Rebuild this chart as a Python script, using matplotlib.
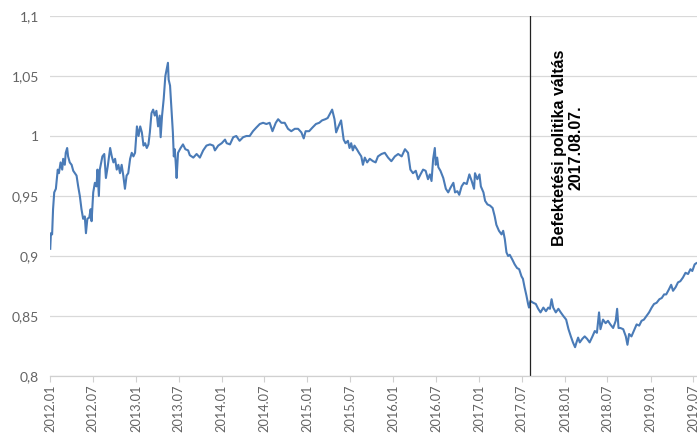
import matplotlib
matplotlib.use("Agg")
import matplotlib.pyplot as plt
import datetime as dt

dates = [
 '2012-01-02','2012-01-05','2012-01-10','2012-01-14','2012-01-19','2012-01-26','2012-02-03','2012-02-08',
 '2012-02-15','2012-02-22','2012-02-26','2012-03-04','2012-03-08','2012-03-14','2012-03-18','2012-03-25',
 '2012-04-02','2012-04-09','2012-04-16','2012-04-23','2012-04-30','2012-05-07','2012-05-14','2012-05-21',
 '2012-05-28','2012-06-02','2012-06-08','2012-06-16','2012-06-22','2012-06-26','2012-07-03','2012-07-10',
 '2012-07-17','2012-07-21','2012-07-27','2012-07-31','2012-08-11','2012-08-19','2012-08-26','2012-09-03',
 '2012-09-13','2012-09-20','2012-09-27','2012-10-04','2012-10-11','2012-10-18','2012-10-25','2012-11-01',
 '2012-11-08','2012-11-15','2012-11-22','2012-11-29','2012-12-07','2012-12-14','2012-12-21','2012-12-28',
 '2013-01-05','2013-01-12','2013-01-19','2013-01-26','2013-02-02','2013-02-09','2013-02-16','2013-02-23',
 '2013-03-01','2013-03-08','2013-03-15','2013-03-22','2013-03-29','2013-04-05','2013-04-12','2013-04-16',
 '2013-04-22','2013-04-29','2013-05-06','2013-05-12','2013-05-17','2013-05-20','2013-05-26','2013-06-01',
 '2013-06-07','2013-06-11','2013-06-15','2013-06-19','2013-06-23','2013-06-29','2013-07-10','2013-07-20',
 '2013-07-30','2013-08-11','2013-08-18',
 '2013-09-02','2013-09-16','2013-09-30','2013-10-14','2013-10-28','2013-11-12','2013-11-26','2013-12-03',
 '2013-12-17','2014-01-01','2014-01-15','2014-01-22','2014-02-05','2014-02-19','2014-03-04','2014-03-18',
 '2014-04-02','2014-04-16','2014-04-30','2014-05-14','2014-05-28','2014-06-12','2014-06-26','2014-07-10',
 '2014-07-24','2014-08-05','2014-08-19','2014-08-29','2014-09-12','2014-09-26','2014-10-10','2014-10-24',
 '2014-11-08','2014-11-22','2014-12-06','2014-12-16','2014-12-24','2015-01-08','2015-01-22','2015-02-06',
 '2015-02-20','2015-03-04','2015-03-18','2015-03-28','2015-04-08','2015-04-16','2015-04-26','2015-05-03',
 '2015-05-13','2015-05-24',
 '2015-06-04','2015-06-12','2015-06-22','2015-06-29','2015-07-06','2015-07-13','2015-07-20','2015-07-30',
 '2015-08-08','2015-08-18','2015-08-25','2015-09-02','2015-09-12','2015-09-23','2015-10-07','2015-10-18',
 '2015-10-28','2015-11-12','2015-11-26','2015-12-10','2015-12-24','2016-01-08','2016-01-22','2016-02-06',
 '2016-02-20','2016-03-04','2016-03-14','2016-03-25','2016-04-06','2016-04-16','2016-04-26','2016-05-07',
 '2016-05-18','2016-05-28','2016-06-05','2016-06-12','2016-06-19','2016-06-26','2016-06-30','2016-07-06',
 '2016-07-11','2016-07-20','2016-08-01','2016-08-12','2016-08-22','2016-09-01','2016-09-13','2016-09-20',
 '2016-09-30','2016-10-08','2016-10-18','2016-10-28','2016-11-09','2016-11-20','2016-11-30','2016-12-10',
 '2016-12-14','2016-12-24','2017-01-02','2017-01-08','2017-01-19','2017-01-26','2017-02-05','2017-02-16',
 '2017-02-27','2017-03-08','2017-03-15','2017-03-26','2017-04-06','2017-04-13','2017-04-20','2017-04-27',
 '2017-05-04','2017-05-11',
 '2017-05-22','2017-06-01','2017-06-11','2017-06-20','2017-06-30','2017-07-06','2017-07-13','2017-07-21',
 '2017-07-28','2017-08-01','2017-08-07','2017-08-19','2017-08-30','2017-09-09','2017-09-19','2017-10-01',
 '2017-10-12','2017-10-22','2017-10-29','2017-11-05','2017-11-12','2017-11-23','2017-12-04','2017-12-14',
 '2017-12-25','2018-01-06','2018-01-16','2018-01-26','2018-02-04','2018-02-13','2018-02-19','2018-02-26',
 '2018-03-05','2018-03-16','2018-03-26','2018-04-05','2018-04-16','2018-04-28','2018-05-08','2018-05-17',
 '2018-05-26','2018-06-01','2018-06-12','2018-06-23','2018-07-03','2018-07-13','2018-07-25','2018-08-05',
 '2018-08-11','2018-08-17','2018-08-25','2018-09-06','2018-09-17','2018-09-24','2018-10-01','2018-10-11',
 '2018-10-21','2018-11-02','2018-11-13','2018-11-23','2018-12-03','2018-12-14','2018-12-25','2019-01-05',
 '2019-01-15','2019-01-26','2019-02-07','2019-02-17','2019-02-27','2019-03-08','2019-03-19','2019-03-29',
 '2019-04-06','2019-04-17','2019-04-27','2019-05-07','2019-05-18','2019-05-29','2019-06-09','2019-06-19',
 '2019-06-27','2019-07-07','2019-07-14',
]

values = [
 0.906,0.919,0.918,0.939,0.953,0.956,0.972,0.969,
 0.978,0.972,0.981,0.976,0.986,0.990,0.983,0.978,
 0.976,0.971,0.969,0.967,0.958,0.950,0.939,0.931,
 0.933,0.919,0.931,0.932,0.939,0.929,0.953,0.961,
 0.958,0.972,0.950,0.972,0.983,0.985,0.965,0.975,
 0.990,0.983,0.978,0.981,0.972,0.976,0.969,0.976,
 0.967,0.956,0.967,0.969,0.981,0.986,0.983,0.986,
 1.008,1.000,1.008,1.003,0.992,0.994,0.990,0.993,
 1.003,1.019,1.022,1.017,1.021,1.008,1.017,0.999,
 1.017,1.031,1.050,1.056,1.061,1.047,1.042,1.022,
 1.003,0.983,0.989,0.978,0.965,0.986,0.990,0.993,
 0.989,0.988,0.984,
 0.982,0.985,0.982,0.988,0.992,0.993,0.992,0.988,
 0.992,0.994,0.997,0.994,0.993,0.999,1.000,0.996,
 0.999,1.000,1.000,1.004,1.007,1.010,1.011,1.010,
 1.011,1.004,1.011,1.014,1.011,1.011,1.006,1.004,
 1.006,1.006,1.003,0.998,1.004,1.004,1.007,1.010,
 1.011,1.013,1.014,1.015,1.019,1.022,1.014,1.003,
 1.008,1.013,
 0.997,0.994,0.996,0.990,0.994,0.988,0.992,0.989,
 0.986,0.983,0.976,0.982,0.978,0.981,0.979,0.978,
 0.983,0.985,0.986,0.982,0.979,0.983,0.985,0.983,
 0.989,0.986,0.972,0.969,0.971,0.964,0.968,0.972,
 0.971,0.964,0.968,0.9625,0.981,0.990,0.976,0.982,
 0.974,0.971,0.965,0.956,0.953,0.957,0.961,0.953,
 0.954,0.951,0.958,0.961,0.960,0.968,0.9625,0.956,
 0.969,0.964,0.968,0.958,0.953,0.946,0.943,0.942,
 0.940,0.933,0.926,0.921,0.918,0.921,0.914,0.903,
 0.900,0.901,
 0.897,0.893,0.890,0.889,0.883,0.881,0.874,0.867,
 0.860,0.857,0.8625,0.861,0.860,0.856,0.853,0.857,
 0.854,0.857,0.856,0.864,0.857,0.853,0.856,0.853,
 0.850,0.847,0.839,0.833,0.828,0.824,0.828,0.832,
 0.828,0.831,0.833,0.831,0.828,0.833,0.8375,0.836,
 0.853,0.839,0.847,0.844,0.846,0.843,0.840,0.846,
 0.856,0.840,0.840,0.839,0.833,0.826,0.835,0.833,
 0.8375,0.843,0.842,0.846,0.847,0.850,0.853,0.857,
 0.860,0.861,0.864,0.865,0.868,0.868,0.872,0.876,
 0.871,0.874,0.878,0.879,0.882,0.886,0.885,0.889,
 0.8875,0.893,0.894,
]

y_ticks = [0.8, 0.85, 0.9, 0.95, 1.0, 1.05, 1.1]
y_tick_labels = ['0,8', '0,85', '0,9', '0,95', '1', '1,05', '1,1']
x_tick_dates = ['2012-01-01','2012-07-01','2013-01-01','2013-07-01','2014-01-01','2014-07-01',
                '2015-01-01','2015-07-01','2016-01-01','2016-07-01','2017-01-01','2017-07-01',
                '2018-01-01','2018-07-01','2019-01-01','2019-07-01']
x_tick_labels = ['2012.01','2012.07','2013.01','2013.07','2014.01','2014.07','2015.01','2015.07',
                 '2016.01','2016.07','2017.01','2017.07','2018.01','2018.07','2019.01','2019.07']
event_date = '2017-08-07'
event_label = 'Befektetési politika váltás\n2017.08.07.'

to_d = lambda s: dt.datetime.strptime(s, '%Y-%m-%d')
xd = [to_d(s) for s in dates]

plt.rcParams['font.family'] = ['Lato', 'DejaVu Sans']

fig = plt.figure(figsize=(6.97, 4.34), dpi=100)
ax = fig.add_axes([50/697, 1-376/434, 1-50/697, (376-16)/434])

ax.plot(xd, values, color='#4a7bb7', lw=1.5, solid_joinstyle='round')

ax.set_ylim(0.8, 1.1)
ax.set_xlim(to_d('2012-01-01'), to_d('2019-07-17'))
ax.set_yticks(y_ticks)
ax.set_yticklabels(y_tick_labels)
ax.set_xticks([to_d(s) for s in x_tick_dates])
ax.set_xticklabels(x_tick_labels, rotation=90)

ax.yaxis.grid(True, color='#d9d9d9', lw=0.9)
ax.set_axisbelow(True)
for s in ['top', 'right', 'left']:
    ax.spines[s].set_visible(False)
ax.spines['bottom'].set_color('#d0d0d0')
ax.spines['bottom'].set_linewidth(0.9)
ax.tick_params(axis='y', length=0, pad=8, labelsize=10, labelcolor='#636363')
ax.tick_params(axis='x', length=4, width=0.8, color='#d0d0d0', pad=2, labelsize=9.2, labelcolor='#636363')

ev = to_d(event_date)
ax.axvline(ev, color='#222222', lw=0.9)
ax.annotate(event_label, xy=(ev, 0.990), xytext=(27, 0), textcoords='offset points',
            rotation=90, ha='center', va='center', fontsize=11.5, fontweight='bold',
            family=['Liberation Sans', 'DejaVu Sans'], linespacing=1.15, color='black')

fig.savefig('out.png', dpi=100)
